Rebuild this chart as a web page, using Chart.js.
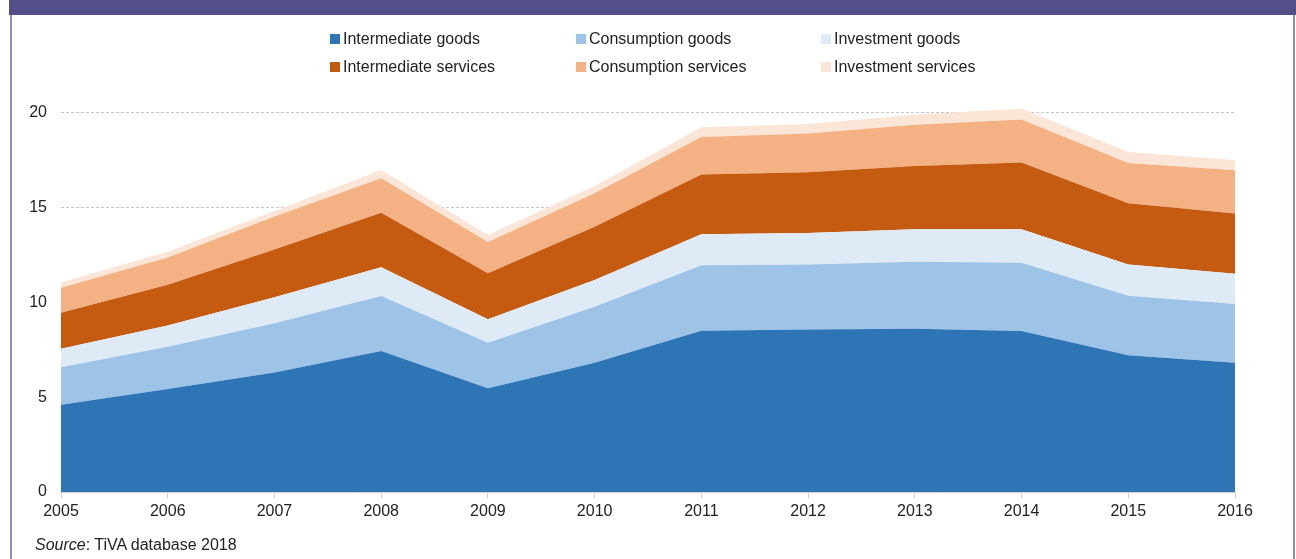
<!DOCTYPE html>
<html>
<head>
<meta charset="utf-8">
<script src="https://cdn.jsdelivr.net/npm/chart.js@4/dist/chart.umd.min.js"></script>
<style>
    html, body { margin: 0; padding: 0; background: #fff; }
    body { width: 1296px; height: 559px; position: relative; overflow: hidden; font-family: "Liberation Sans", Arial, sans-serif; }
    .banner { position: absolute; left: 9px; top: 0; width: 1287px; height: 15px; background: #534f88; }
    .frame-l { position: absolute; left: 10px; top: 15px; width: 2px; height: 544px; background: #8f8cba; }
    .frame-r { position: absolute; left: 1293px; top: 15px; width: 2px; height: 544px; background: #8f8cba; }
    #wrap { position: absolute; left: 0; top: 0; width: 1296px; height: 559px; }
    .legend { position: absolute; left: 0; top: 0; }
    .legend .item { position: absolute; font-size: 16px; color: #222; white-space: nowrap; line-height: 18px; }
    .legend .box { display: inline-block; width: 10px; height: 10px; margin-right: 3px; vertical-align: 0px; }
    .source { position: absolute; left: 35px; top: 536px; font-size: 16px; color: #222; }
</style>
</head>
<body>
<div class="banner"></div>
<div class="frame-l"></div>
<div class="frame-r"></div>
<div id="wrap"><canvas id="tivaChart" width="1296" height="559"></canvas></div>
<div class="legend" id="legend"></div>
<div class="source"><i>Source</i>: TiVA database 2018</div>

<script>
const years = ['2005', '2006', '2007', '2008', '2009', '2010', '2011', '2012', '2013', '2014', '2015', '2016']

const seriesNames = [
    'Intermediate goods',
    'Consumption goods',
    'Investment goods',
    'Intermediate services',
    'Consumption services',
    'Investment services'
]

const intermediateGoods = [4.60, 5.43, 6.30, 7.44, 5.47, 6.82, 8.51, 8.57, 8.62, 8.50, 7.21, 6.82]
const consumptionGoods = [1.98, 2.24, 2.60, 2.90, 2.41, 2.96, 3.45, 3.44, 3.53, 3.60, 3.15, 3.10]
const investmentGoods = [0.98, 1.11, 1.37, 1.52, 1.23, 1.41, 1.64, 1.66, 1.71, 1.76, 1.65, 1.60]
const intermediateServices = [1.90, 2.16, 2.53, 2.88, 2.43, 2.81, 3.15, 3.20, 3.34, 3.52, 3.22, 3.17]
const consumptionServices = [1.32, 1.43, 1.73, 1.81, 1.65, 1.76, 1.98, 2.04, 2.18, 2.27, 2.13, 2.29]
const investmentServices = [0.28, 0.31, 0.30, 0.44, 0.37, 0.39, 0.51, 0.51, 0.53, 0.58, 0.58, 0.54]

const yTicks = [0, 5, 10, 15, 20]

const colors = ['#2e75b6', '#9dc3e6', '#deebf7', '#c55a11', '#f4b183', '#fbe5d6']

const allSeries = [
    intermediateGoods,
    consumptionGoods,
    investmentGoods,
    intermediateServices,
    consumptionServices,
    investmentServices
]

// legend: 3 columns x 2 rows
const legend = document.getElementById('legend')
const colX = [330, 576, 821]
const rowY = [30, 58]
seriesNames.forEach((name, i) => {
    const el = document.createElement('div')
    el.className = 'item'
    el.style.left = colX[i % 3] + 'px'
    el.style.top = rowY[Math.floor(i / 3)] + 'px'
    el.innerHTML = '<span class="box" style="background:' + colors[i] + '"></span>' + name
    legend.appendChild(el)
})

Chart.defaults.font.family = '"Liberation Sans", Arial, sans-serif'
Chart.defaults.font.size = 16
Chart.defaults.color = '#222'

new Chart(document.getElementById('tivaChart'), {
    type: 'line',

    data: {
        labels: years,
        datasets: allSeries.map((values, i) => ({
            label: seriesNames[i],
            data: values,
            backgroundColor: colors[i],
            borderWidth: 0,
            pointRadius: 0,
            tension: 0,
            fill: i === 0 ? 'origin' : '-1'
        }))
    },

    options: {
        responsive: false,
        animation: false,
        layout: {
            padding: { left: 0, right: 61, top: 94, bottom: 37 }
        },

        plugins: {
            legend: { display: false },
            tooltip: { enabled: false }
        },

        scales: {
            x: {
                offset: false,
                grid: {
                    drawOnChartArea: false,
                    drawTicks: true,
                    tickLength: 6,
                    color: '#d0d0d0'
                },
                border: { color: '#d0d0d0', width: 1 },
                ticks: { padding: 4, maxRotation: 0, autoSkip: false },
                afterFit: (scale) => { scale.height = 30 }
            },
            y: {
                stacked: true,
                min: 0,
                max: 21,
                afterBuildTicks: (scale) => {
                    scale.ticks = yTicks.map(v => ({ value: v }))
                },
                grid: {
                    drawTicks: false,
                    color: (ctx) => ctx.tick && ctx.tick.value === 0 ? 'rgba(0,0,0,0)' : '#c4c4c4'
                },
                border: { display: false, dash: [3, 2] },
                ticks: { padding: 14 },
                afterFit: (scale) => { scale.width = 61 }
            }
        }
    }
})
</script>
</body>
</html>
